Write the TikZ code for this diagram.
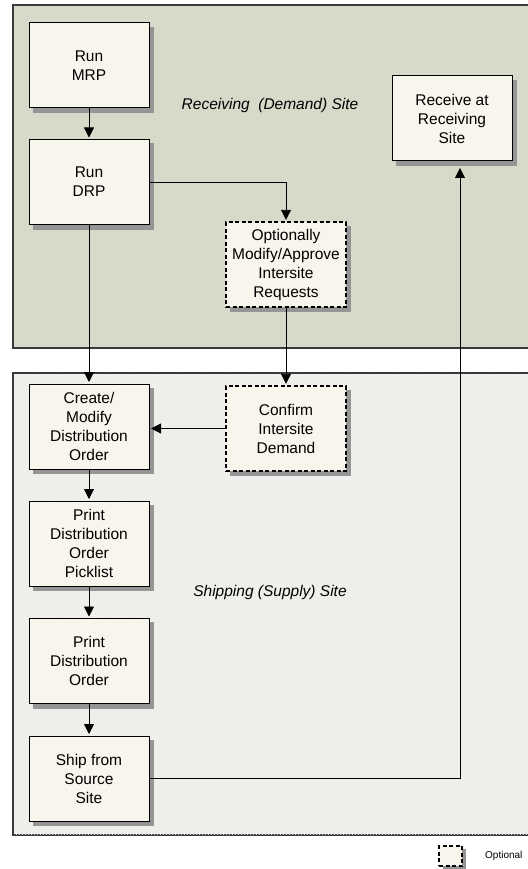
\documentclass[tikz,border=0pt]{standalone}
\usepackage{fontspec}
\setmainfont{Liberation Sans}
\usepackage{tikz}
\usetikzlibrary{patterns,arrows.meta,calc}
\definecolor{demandbg}{HTML}{D7D9C9}
\definecolor{supplybg}{HTML}{F2F1EC}
\definecolor{boxfill}{HTML}{F8F5EC}
\definecolor{panelline}{HTML}{3A3A3A}
\definecolor{shadowgray}{HTML}{959595}
\tikzset{mybox/.style = {draw,fill=boxfill,line width=1pt,minimum width=120pt,minimum height=85pt,inner sep=0pt,align=center,
  font=\fontsize{15.5}{19}\selectfont},
  myoptbox/.style = {mybox,dash pattern=on 4pt off 2.5pt,line width=1.4pt},
  myshade/.style = {draw=shadowgray,fill=shadowgray,line width=0.5pt},
  myarrow/.style = {-{Triangle[length=10pt,width=10pt]},line width=0.9pt,shorten >=1.5pt},
  mysite/.style = {font=\fontsize{15.5}{19}\selectfont\itshape}}
\NewDocumentCommand{\fpanel}{O{demandbg} m m}{%
\draw[panelline,line width=1.6pt,fill=#1] (#2) rectangle (#3);
}
\NewDocumentCommand{\fstep}{O{mybox} m m m}{%
\draw[myshade] ($(#3)+(-56,-38.5)$) rectangle ($(#3)+(64.5,47)$);
\node[#1] (#2) at (#3) {#4};
}

\begin{document}
\begin{tikzpicture}[x=1pt,y=-1pt]
\useasboundingbox (0,0) rectangle (527,869);

\fpanel{13,5}{545,348}
\fpanel[supplybg]{13,373}{545,835}
\draw[draw=none,pattern=north east lines,pattern color=black!8] (14,374) rectangle (545,834);

\node[mysite] (demand) at (270,105) {Receiving\ \ (Demand) Site};
\node[mysite] (supply) at (270,592) {Shipping (Supply) Site};

\fstep{mrp}{89,65.5}{Run\\MRP}
\fstep{drp}{89,182}{Run\\DRP}
\fstep{recv}{452,118.5}{Receive at\\Receiving\\Site}
\fstep[myoptbox]{optreq}{286,264.5}{Optionally\\Modify/Approve\\Intersite\\Requests}
\fstep[myoptbox]{confirm}{286,428.5}{Confirm\\Intersite\\Demand}
\fstep{create}{89,426.5}{Create/\\Modify\\Distribution\\Order}
\fstep{picklist}{89,543.5}{Print\\Distribution\\Order\\Picklist}
\fstep{printdo}{89,661}{Print\\Distribution\\Order}
\fstep{ship}{89,778.5}{Ship from\\Source\\Site}

\coordinate (recvin) at ([xshift=8pt,yshift=-5pt]recv.south);

\draw[myarrow] (mrp) -- (drp);
\draw[myarrow] (drp.east) -| (optreq.north);
\draw[myarrow] (optreq) -- (confirm);
\draw[myarrow] (confirm.west) -- (confirm.west -| create.east);
\draw[myarrow] (drp) -- (create);
\draw[myarrow] (create) -- (picklist);
\draw[myarrow] (picklist) -- (printdo);
\draw[myarrow] (printdo) -- (ship);
\draw[myarrow] (ship.east) -| (recvin);

\draw[myshade] (443,849) rectangle (465,869);
\node[myoptbox,minimum width=23pt,minimum height=20pt] (legendbox) at (450.5,856) {};
\node[anchor=west,inner sep=0pt,font=\fontsize{10}{12}\selectfont] (legendtext) at (485,856) {Optional};
\end{tikzpicture}
\end{document}
